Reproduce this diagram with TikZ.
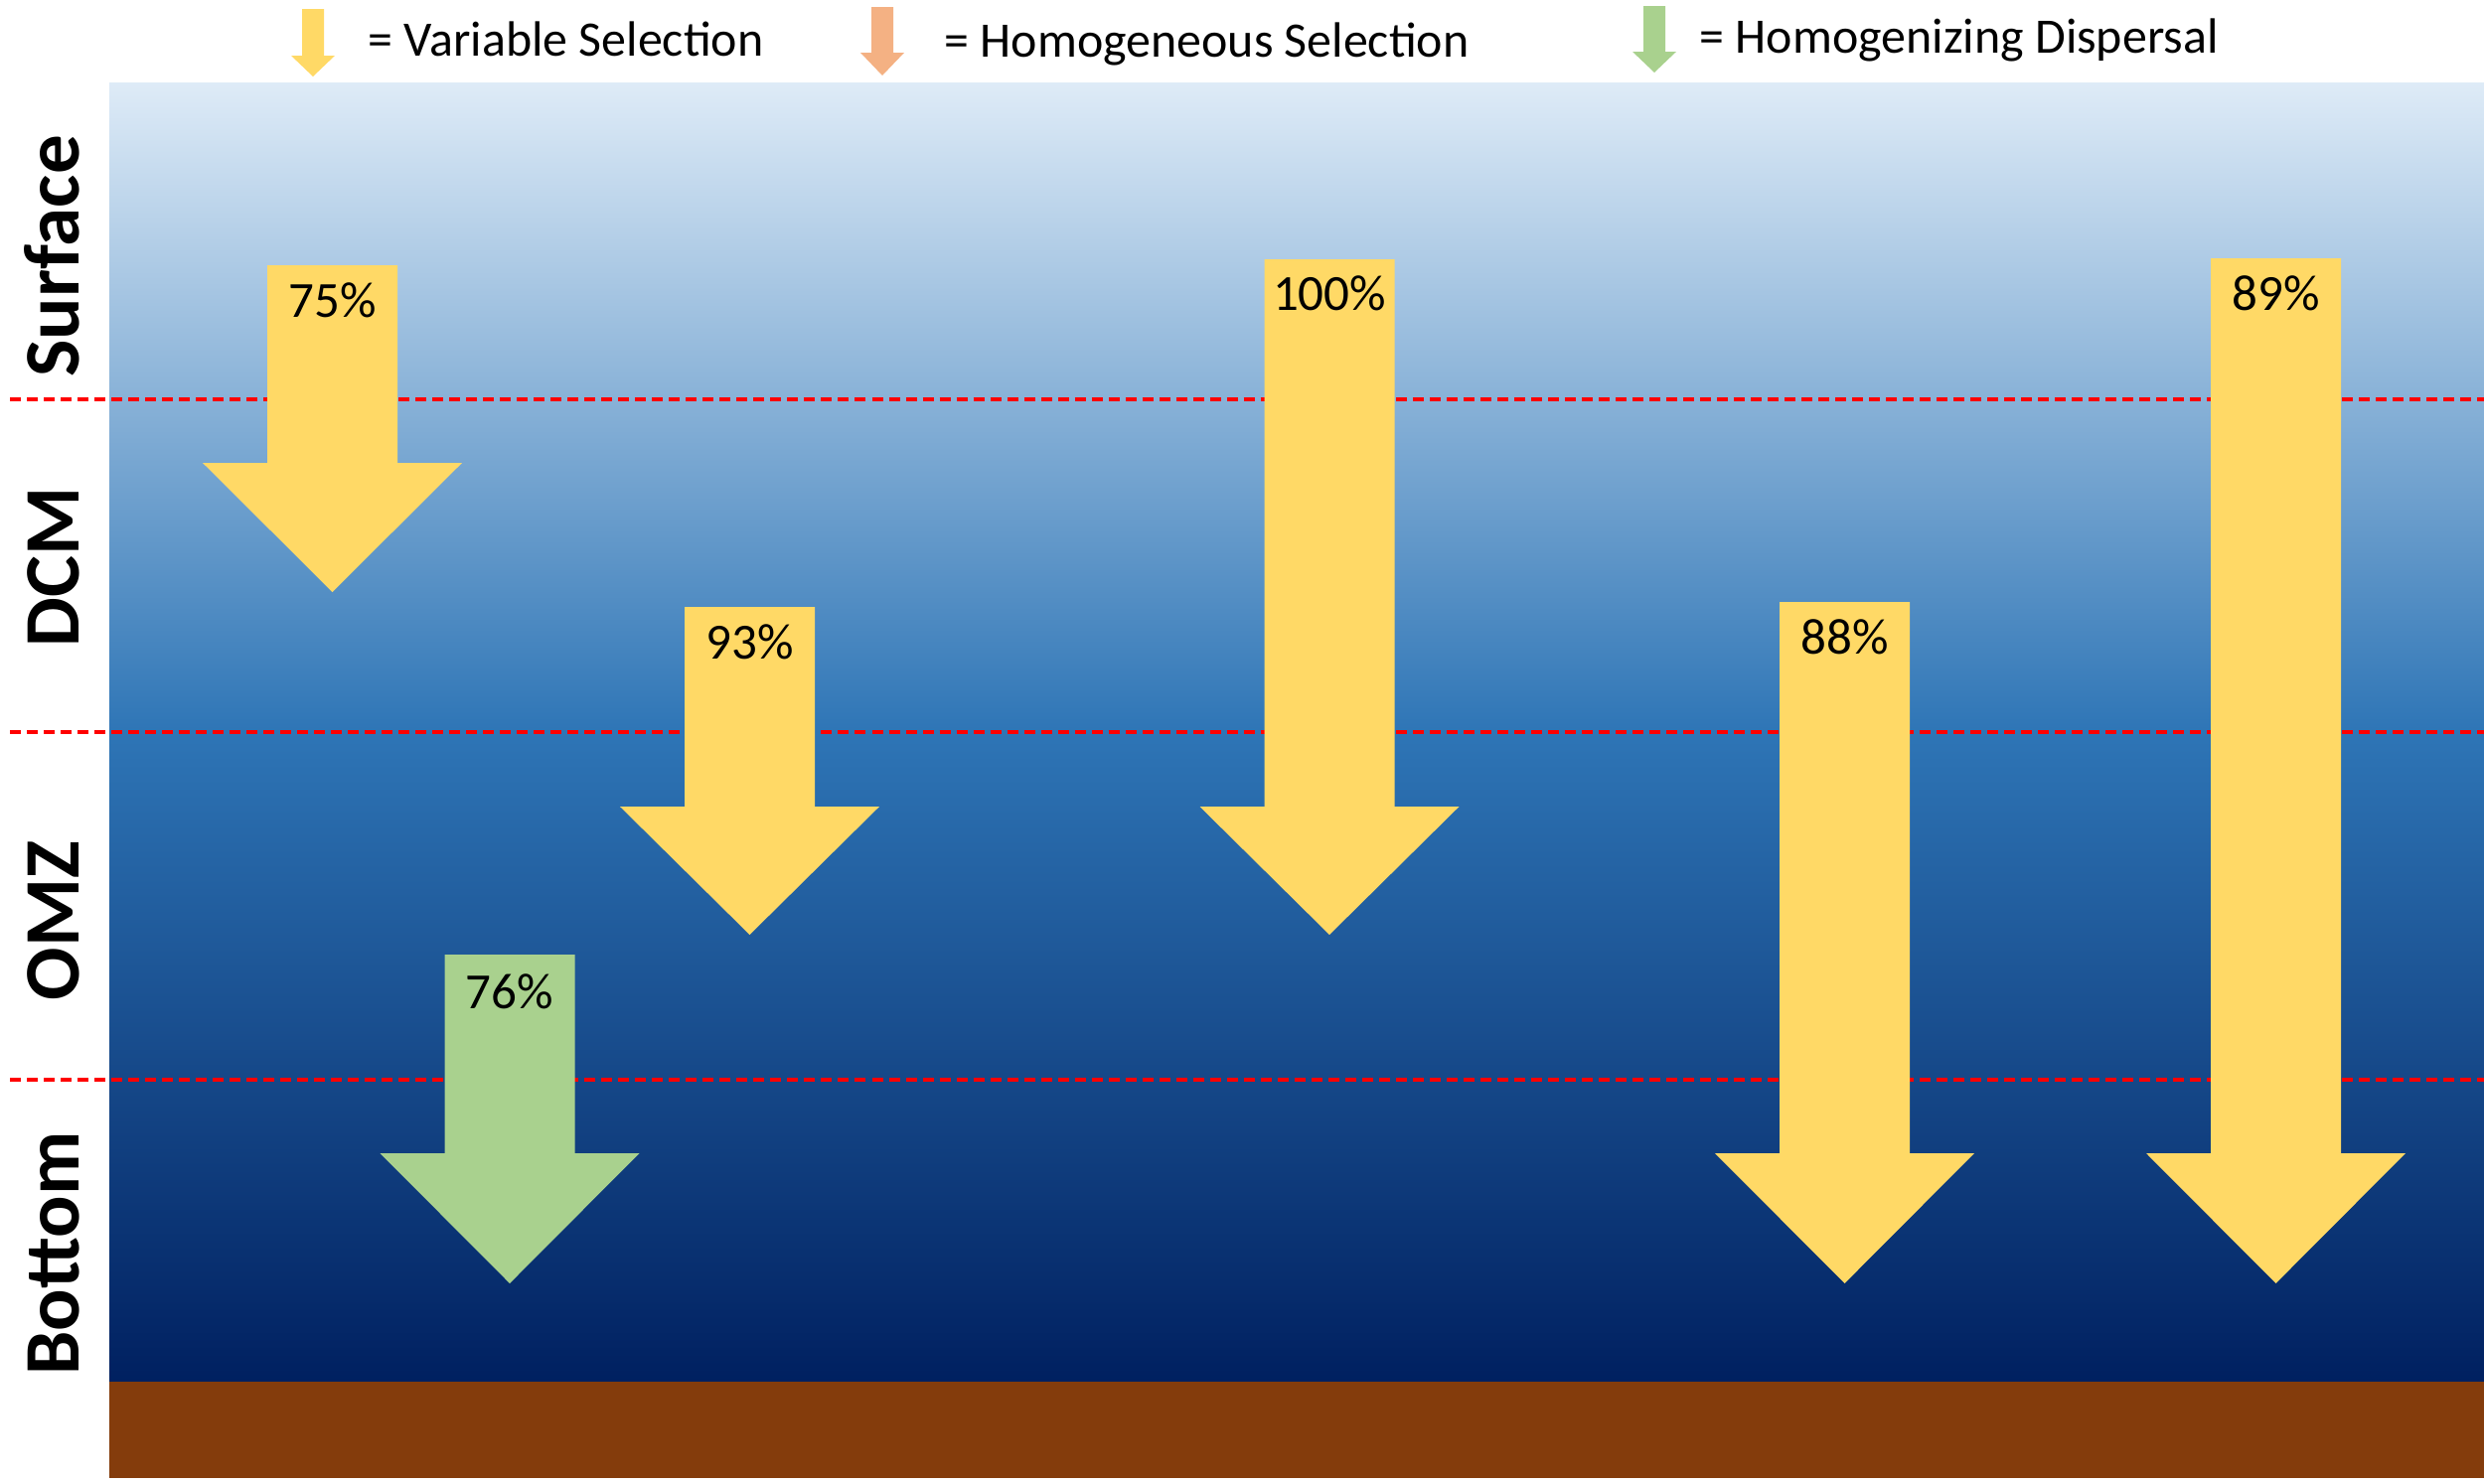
\documentclass[tikz,border=0pt]{standalone}
\usepackage{fontspec}
\setmainfont{Carlito}
\definecolor{varsel}{HTML}{FFD966}
\definecolor{homsel}{HTML}{F4B183}
\definecolor{homdisp}{HTML}{A9D18E}
\definecolor{seatop}{HTML}{DEEBF7}
\definecolor{seamid}{HTML}{2E75B6}
\definecolor{seabot}{HTML}{002060}
\definecolor{seabed}{HTML}{843C0C}
\definecolor{zoneline}{HTML}{FF0000}
% #1 centre x, #2 top, #3 head start, #4 tip, #5 half shaft, #6 half head, #7 colour
\newcommand\fatdownarrow[7]{%
  \fill[#7] (#1-#5,#2) -- (#1+#5,#2) -- (#1+#5,#3) -- (#1+#6,#3) -- (#1,#4)
    -- (#1-#6,#3) -- (#1-#5,#3) -- cycle;}
\tikzset{
  zonelabel/.style={rotate=90, anchor=base, inner sep=0pt, font=\fontsize{22.5}{27}\selectfont\bfseries},
  legendtext/.style={anchor=base west, inner sep=0pt, font=\fontsize{14.2}{17}\selectfont},
  pct/.style={anchor=base, inner sep=0pt, font=\fontsize{14.5}{17}\selectfont},
  zoneboundary/.style={draw=zoneline, line width=1.2pt, dash pattern=on 0.11cm off 0.06cm}
}
\begin{document}
\begin{tikzpicture}[x=0.01cm, y=-0.01cm]
\useasboundingbox (0,0) rectangle (2500,1493);
\fill[white] (0,0) rectangle (2500,1493);
% ocean and seabed
\shade[top color=seatop, bottom color=seabot, middle color=seamid] (110,83) rectangle (2500,1391);
\fill[seabed] (110,1391) rectangle (2500,1488);
% zone boundaries
\coordinate (b1l) at (10,402);  \coordinate (b1r) at (2500,402);
\coordinate (b2l) at (10,737);  \coordinate (b2r) at (2500,737);
\coordinate (b3l) at (10,1087); \coordinate (b3r) at (2500,1087);
\draw[zoneboundary] (b1l) -- (b1r);
\draw[zoneboundary] (b2l) -- (b2r);
\draw[zoneboundary] (b3l) -- (b3r);
% zone labels
\node[zonelabel] (surf) at (80,258) {Surface};
\node[zonelabel] (dcm) at (80,571) {DCM};
\node[zonelabel] (omz) at (80,927) {OMZ};
\node[zonelabel] (bot) at (80,1262) {Bottom};
% legend
\fatdownarrow{315}{9}{56}{77}{11}{22}{varsel}
\fatdownarrow{888}{7}{53}{76}{11}{22}{homsel}
\fatdownarrow{1665}{6}{52}{73}{11}{22}{homdisp}
\node[legendtext] (lgvar) at (370,56) {= Variable Selection};
\node[legendtext] (lghom) at (950,57) {= Homogeneous Selection};
\node[legendtext] (lgdisp) at (1710,53) {= Homogenizing Dispersal};
% arrows
\fatdownarrow{334.5}{267}{466}{596}{65.5}{130.5}{varsel}
\fatdownarrow{754.5}{611}{812}{941}{65.5}{130.5}{varsel}
\fatdownarrow{1338}{261}{812}{941}{65.5}{130.5}{varsel}
\fatdownarrow{513}{961}{1161}{1292}{65.5}{130.5}{homdisp}
\fatdownarrow{1856.5}{606}{1161}{1292}{65.5}{130.5}{varsel}
\fatdownarrow{2290.5}{260}{1161}{1292}{65.5}{130.5}{varsel}
\node[pct] (p1) at (334.5,319) {75\%};
\node[pct] (p2) at (754.5,663) {93\%};
\node[pct] (p3) at (1338,312) {100\%};
\node[pct] (p4) at (513,1015) {76\%};
\node[pct] (p5) at (1856.5,658) {88\%};
\node[pct] (p6) at (2290.5,312) {89\%};
\end{tikzpicture}
\end{document}
